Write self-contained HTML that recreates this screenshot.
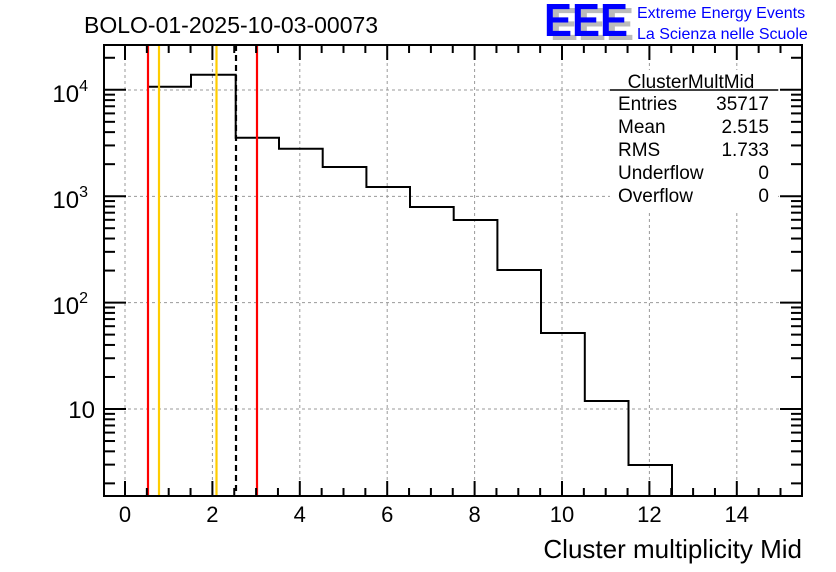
<!DOCTYPE html>
<html><head><style>body{margin:0;background:#fff}svg{display:block}</style></head><body>
<svg width="836" height="572" xmlns="http://www.w3.org/2000/svg" font-family="Liberation Sans, sans-serif">
<rect width="836" height="572" fill="#fff"/>
<g stroke="#999" stroke-dasharray="3,3" stroke-width="1">
<line x1="125" y1="45" x2="125" y2="496"/><line x1="212.4" y1="45" x2="212.4" y2="496"/><line x1="299.8" y1="45" x2="299.8" y2="496"/><line x1="387.2" y1="45" x2="387.2" y2="496"/><line x1="474.6" y1="45" x2="474.6" y2="496"/><line x1="562" y1="45" x2="562" y2="496"/><line x1="649.4" y1="45" x2="649.4" y2="496"/><line x1="736.8" y1="45" x2="736.8" y2="496"/>
<line x1="104" y1="90" x2="802" y2="90"/><line x1="104" y1="196.4" x2="802" y2="196.4"/><line x1="104" y1="302.6" x2="802" y2="302.6"/><line x1="104" y1="409" x2="802" y2="409"/>
</g>
<polyline fill="none" stroke="#000" stroke-width="2" points="148,496 148,86.7 191,86.7 191,74.7 235.7,74.7 235.7,137.7 279,137.7 279,148.7 322.7,148.7 322.7,167 366.4,167 366.4,187 410,187 410,207 453.7,207 453.7,220 497.4,220 497.4,270 541,270 541,333 584.8,333 584.8,401 628.5,401 628.5,465 672,465 672,496"/>
<line x1="148" y1="45" x2="148" y2="496" stroke="#f00" stroke-width="2.2"/>
<line x1="257" y1="45" x2="257" y2="496" stroke="#f00" stroke-width="2.2"/>
<line x1="159" y1="45" x2="159" y2="496" stroke="#fc0" stroke-width="2.2"/>
<line x1="216.5" y1="45" x2="216.5" y2="496" stroke="#fc0" stroke-width="2.2"/>
<line x1="236" y1="45" x2="236" y2="496" stroke="#000" stroke-width="2.2" stroke-dasharray="6,4"/>
<rect x="104" y="45" width="698" height="451" fill="none" stroke="#000" stroke-width="2"/>
<g id="t" stroke="#000" stroke-width="2"></g>
<g font-size="22" text-anchor="middle">
<text x="125" y="522">0</text><text x="212.4" y="522">2</text><text x="299.8" y="522">4</text><text x="387.2" y="522">6</text><text x="474.6" y="522">8</text><text x="562" y="522">10</text><text x="649.4" y="522">12</text><text x="736.8" y="522">14</text>
</g>
<g font-size="24" text-anchor="end">
<text x="88" y="102">10<tspan font-size="16" dy="-11">4</tspan></text>
<text x="88" y="208">10<tspan font-size="16" dy="-11">3</tspan></text>
<text x="88" y="314">10<tspan font-size="16" dy="-11">2</tspan></text>
<text x="95" y="418">10</text>
</g>
<text x="84" y="33" font-size="23">BOLO-01-2025-10-03-00073</text>
<text x="802" y="558" font-size="26" text-anchor="end">Cluster multiplicity Mid</text>
<rect x="610" y="70" width="168" height="140" fill="#fff"/>
<text x="691" y="88" font-size="19" text-anchor="middle">ClusterMultMid</text>
<line x1="610" y1="90" x2="778" y2="90" stroke="#000" stroke-width="1.5"/>
<g font-size="19"><text x="618" y="110">Entries</text><text x="618" y="133">Mean</text><text x="618" y="156">RMS</text><text x="618" y="179">Underflow</text><text x="618" y="202">Overflow</text></g>
<g font-size="19" text-anchor="end"><text x="769" y="110">35717</text><text x="769" y="133">2.515</text><text x="769" y="156">1.733</text><text x="769" y="179">0</text><text x="769" y="202">0</text></g>
<text x="550" y="40" font-size="46" font-weight="bold" fill="#bbb" textLength="84" lengthAdjust="spacingAndGlyphs">EEE</text>
<text x="544" y="36" font-size="46" font-weight="bold" fill="#00f" textLength="84" lengthAdjust="spacingAndGlyphs">EEE</text>
<text x="637" y="18" font-size="16" fill="#00f">Extreme Energy Events</text>
<text x="637" y="39" font-size="16" fill="#00f">La Scienza nelle Scuole</text>
</svg>
<script>
var g=document.getElementById('t'),s='';
function L(a,b,c,d){s+='<line x1="'+a+'" y1="'+b+'" x2="'+c+'" y2="'+d+'"/>';}
for(var v=-0.5;v<=15.5;v+=0.5){var x=125+43.7*v;if(x<104||x>802)continue;var m=Math.abs(v%2)<1e-6;var l=m?15:8;L(x,496,x,496-l);L(x,45,x,45+l);}
for(var e=0;e<5;e++)for(var k=1;k<10;k++){var val=e+Math.log10(k);var y=409-106.4*(val-1);if(y<45||y>496)continue;var l=k==1?22:11;L(104,y,104+l,y);L(802,y,802-l,y);}
g.innerHTML=s;
</script>
</body></html>
